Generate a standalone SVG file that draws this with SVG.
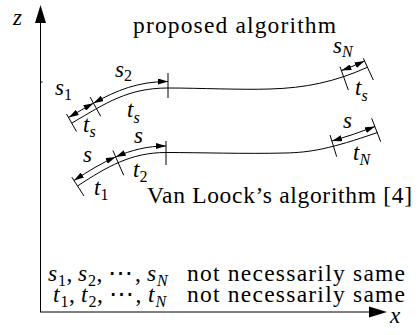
<svg xmlns="http://www.w3.org/2000/svg" width="419" height="335" viewBox="0 0 419 335" font-family="Liberation Serif">
<style>
  .ln { fill: none; stroke: #000; stroke-width: 1; }
  .dim { fill: none; stroke: #000; stroke-width: 1; marker-start: url(#ah); marker-end: url(#ah); }
  .tx { font-size: 23.5px; fill: #000; }
  .m { font-size: 23px; font-style: italic; fill: #000; }
  .sub { font-size: 16px; font-style: normal; }
  .subi { font-size: 16px; font-style: italic; }
  .it { font-style: italic; }
  .cd { font-size: 25px; }
</style>
<defs>
  <marker id="ah" viewBox="0 0 10 6" refX="10" refY="3" markerWidth="10" markerHeight="6" markerUnits="userSpaceOnUse" orient="auto-start-reverse">
    <path d="M0,0 L10,3 L0,6 z" fill="#000"/>
  </marker>
</defs>

<g id="axes">
  <line class="ln" x1="40.5" y1="312" x2="40.5" y2="20"/>
  <line class="ln" x1="40.5" y1="82" x2="42.5" y2="82"/>
  <polygon points="40.5,5 35,23 46,23" fill="#000"/>
  <line class="ln" x1="40" y1="312" x2="372" y2="312"/>
  <polygon points="387,312 369,306.5 369,317.5" fill="#000"/>
  <text class="m" font-family="Liberation Serif" x="13" y="25">z</text>
  <text class="m" font-family="Liberation Serif" x="390" y="323">x</text>
</g>

<g id="proposed" font-family="Liberation Serif">
  <path class="ln" d="M72 123 C106 103 128 88 168 88 C200 88 240 90 270 89 C305 88 335 82 368 67"/>
  <g id="proposed-dims">
    <path class="dim" d="M68.7 117.4 C77.5 112.3 85.6 107.5 93.45 103.2"/>
    <path class="dim" d="M93.45 103.2 C117 90.2 138 81.5 168 81.5"/>
    <path class="dim" d="M341.4 70.5 Q353 66.5 364.5 61"/>
  </g>
  <g id="proposed-ticks">
    <line class="ln" x1="66.5" y1="114" x2="76.5" y2="131.5"/>
    <line class="ln" x1="90.1" y1="97.1" x2="100.7" y2="116.3"/>
    <line class="ln" x1="168" y1="73" x2="168" y2="98"/>
    <line class="ln" x1="340" y1="66.7" x2="348.3" y2="90"/>
    <line class="ln" x1="363.3" y1="58.3" x2="373.3" y2="80"/>
  </g>
  <text class="tx" font-family="Liberation Serif" x="133" y="33" textLength="203" lengthAdjust="spacing">proposed algorithm</text>
  <text class="m" font-family="Liberation Serif" x="55" y="95">s<tspan class="sub" dy="5">1</tspan></text>
  <text class="m" font-family="Liberation Serif" x="115" y="77">s<tspan class="sub" dy="4">2</tspan></text>
  <text class="m" font-family="Liberation Serif" x="83" y="132">t<tspan class="subi" dy="5">s</tspan></text>
  <text class="m" font-family="Liberation Serif" x="127" y="117">t<tspan class="subi" dy="6">s</tspan></text>
  <text class="m" font-family="Liberation Serif" x="333" y="53">s<tspan class="subi" dy="4">N</tspan></text>
  <text class="m" font-family="Liberation Serif" x="355" y="95">t<tspan class="subi" dy="6">s</tspan></text>
</g>

<g id="vanloock" font-family="Liberation Serif">
  <path class="ln" d="M77.5 186 C106.9 166.75 131 152.5 166 152.5 C200 152.5 245 154 285 153 C310 152.5 330 149 377.5 132.5"/>
  <g id="vanloock-dims">
    <path class="dim" d="M74 180.5 C88.3 171.1 101.8 162.9 115.7 156.9"/>
    <path class="dim" d="M115.7 156.9 C131.3 150.1 147.45 146 166 146"/>
    <path class="dim" d="M332 141 Q353 135 375 126.5"/>
  </g>
  <g id="vanloock-ticks">
    <line class="ln" x1="71.8" y1="177.1" x2="84" y2="196"/>
    <line class="ln" x1="112.9" y1="150.5" x2="123.7" y2="175.3"/>
    <line class="ln" x1="166" y1="141" x2="166" y2="165"/>
    <line class="ln" x1="330" y1="135" x2="336.7" y2="156.7"/>
    <line class="ln" x1="371.7" y1="118.3" x2="380.7" y2="141.7"/>
  </g>
  <text class="tx" font-family="Liberation Serif" x="147" y="202.5" textLength="265" lengthAdjust="spacing">Van Loock’s algorithm [4]</text>
  <text class="m" font-family="Liberation Serif" x="83" y="162">s</text>
  <text class="m" font-family="Liberation Serif" x="134" y="143">s</text>
  <text class="m" font-family="Liberation Serif" x="94" y="195">t<tspan class="sub" dy="5">1</tspan></text>
  <text class="m" font-family="Liberation Serif" x="133" y="177">t<tspan class="sub" dy="5">2</tspan></text>
  <text class="m" font-family="Liberation Serif" x="343" y="128">s</text>
  <text class="m" font-family="Liberation Serif" x="353" y="160">t<tspan class="subi" dy="5">N</tspan></text>
</g>

<g id="notes" font-family="Liberation Serif">
  <text class="tx" font-family="Liberation Serif"><tspan class="it" x="48" y="280.5">s</tspan><tspan class="sub" x="58" y="285.5">1</tspan><tspan x="66.5" y="280.5">,</tspan><tspan class="it" x="78" y="280.5">s</tspan><tspan class="sub" x="88" y="285.5">2</tspan><tspan x="96.5" y="280.5">,</tspan><tspan class="cd" font-family="DejaVu Serif" x="108" y="280.5">⋯</tspan><tspan x="135" y="280.5">,</tspan><tspan class="it" x="147" y="280.5">s</tspan><tspan class="subi" x="157" y="285.5">N</tspan></text>
  <text class="tx" font-family="Liberation Serif" x="187" y="280.5" textLength="218" lengthAdjust="spacing">not necessarily same</text>
  <text class="tx" font-family="Liberation Serif"><tspan class="it" x="53" y="302">t</tspan><tspan class="sub" x="60.5" y="307">1</tspan><tspan x="69" y="302">,</tspan><tspan class="it" x="81" y="302">t</tspan><tspan class="sub" x="88.5" y="307">2</tspan><tspan x="97" y="302">,</tspan><tspan class="cd" font-family="DejaVu Serif" x="108.5" y="302">⋯</tspan><tspan x="135.5" y="302">,</tspan><tspan class="it" x="148" y="302">t</tspan><tspan class="subi" x="155.5" y="307">N</tspan></text>
  <text class="tx" font-family="Liberation Serif" x="187" y="302" textLength="218" lengthAdjust="spacing">not necessarily same</text>
</g>
</svg>
